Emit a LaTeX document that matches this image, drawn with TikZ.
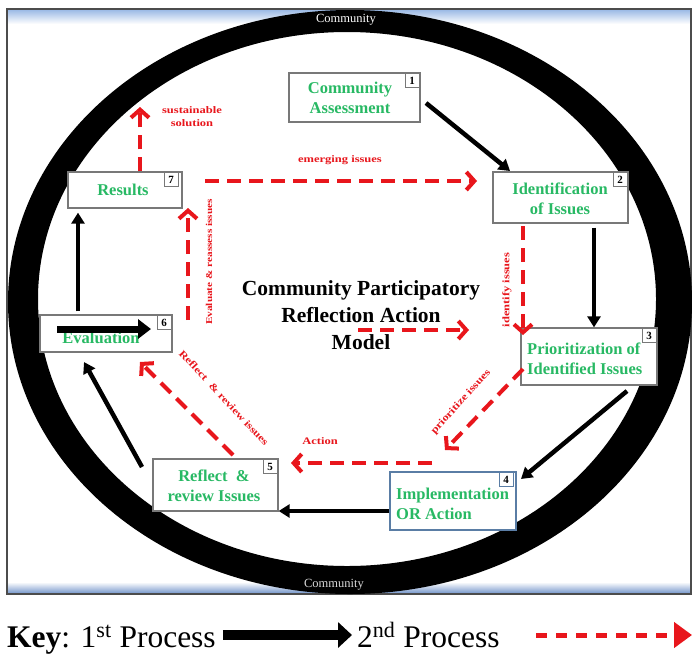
\documentclass[tikz,border=0pt]{standalone}
\usepackage{fontspec}
\setmainfont{Liberation Serif}
\newfontfamily\lblfont[FakeStretch=1.25]{Liberation Serif}
\usetikzlibrary{arrows.meta,calc}
\definecolor{boxgreen}{RGB}{40,185,100}
\definecolor{arrred}{RGB}{232,22,28}
\definecolor{bandblue}{RGB}{150,182,228}
\definecolor{bandblue2}{RGB}{110,145,200}
\definecolor{boxgray}{RGB}{120,120,120}
\definecolor{boxblue}{RGB}{90,125,165}
\begin{document}
\begin{tikzpicture}[x=1pt,y=-1pt,
  procbox/.style={draw=boxgray, line width=1.3pt, fill=white, inner sep=0pt},
  numbox/.style={draw=boxgray, line width=0.9pt, fill=white, minimum size=14pt, inner sep=0pt,
     anchor=north east, font=\bfseries\fontsize{11}{11}\selectfont},
  boxtext/.style={text=boxgreen, font=\bfseries\fontsize{16.5}{20}\selectfont, inner sep=0pt},
  lbl/.style={text=arrred, font=\lblfont\bfseries\fontsize{10}{13}\selectfont, inner sep=0pt},
  blackarr/.style={draw=black, line width=4.5pt, -{Triangle[length=11pt,width=13pt]}},
  redarr/.style={draw=arrred, line width=4pt, dash pattern=on 14pt off 8pt,
     -{Straight Barb[length=8pt,width=18pt,line width=4pt]}},
  keytext/.style={anchor=base west, font=\fontsize{31.5}{33}\selectfont, inner sep=0pt}
]
\useasboundingbox (0,0) rectangle (692,654);
% frame
\fill[white] (0,0) rectangle (692,654);
\shade[top color=bandblue, bottom color=white] (7,9) rectangle (691,24);
\shade[top color=white, bottom color=bandblue2] (7,582) rectangle (691,594);
\draw[draw=black!70, line width=1.2pt] (7,9) rectangle (691,594);
% ring
\fill[black, even odd rule] (350,302) ellipse [x radius=342, y radius=292]
   (347,299) ellipse [x radius=309, y radius=267];
\node[text=white, font=\fontsize{12.5}{13}\selectfont, inner sep=0pt] (ctop) at (346,20) {Community};
\node[text=white!85!black, font=\fontsize{12.5}{13}\selectfont, inner sep=0pt] (cbot) at (334,585) {Community};

% boxes
\node[procbox, minimum width=131pt, minimum height=49pt] (b1) at (354.5,97.5) {};
\node[procbox, minimum width=135pt, minimum height=51pt] (b2) at (560.5,197.5) {};
\node[procbox, minimum width=136pt, minimum height=57pt] (b3) at (589,356.5) {};
\node[procbox, draw=boxblue, minimum width=126pt, minimum height=58pt] (b4) at (453,501) {};
\node[procbox, minimum width=125pt, minimum height=52pt] (b5) at (215.5,485) {};
\node[procbox, minimum width=132pt, minimum height=37pt] (b6) at (106,333.5) {};
\node[procbox, minimum width=114pt, minimum height=36pt] (b7) at (125,190) {};

\node[boxtext, align=center] (t1) at (350,98) {Community\\Assessment};
\node[boxtext, align=center] (t2) at (560,199) {Identification\\of Issues};
\node[boxtext, align=left, anchor=west] (t3) at (527,359) {Prioritization of\\Identified Issues};
\node[boxtext, align=left, anchor=west] (t4) at (396,504) {Implementation\\OR Action};
\node[boxtext, align=center] (t5) at (214,486) {Reflect \ \&\\review Issues};
\node[boxtext] (t6) at (101,338) {Evaluation};
\node[boxtext] (t7) at (123,190) {Results};

\node[numbox] (n1) at ([xshift=-1pt,yshift=-1pt]b1.north east) {1};
\node[numbox] (n2) at ([xshift=-1pt,yshift=-1pt]b2.north east) {2};
\node[numbox] (n3) at ([xshift=-1pt,yshift=-1pt]b3.north east) {3};
\node[numbox, draw=boxblue] (n4) at ([xshift=-3pt,yshift=-1pt]b4.north east) {4};
\node[numbox] (n5) at ([xshift=-1pt,yshift=-1pt]b5.north east) {5};
\node[numbox] (n6) at ([xshift=-1pt,yshift=-1pt]b6.north east) {6};
\node[numbox] (n7) at ([xshift=-4pt,yshift=-1pt]b7.north east) {7};

% black (1st process) arrows
\coordinate (k1s) at (426,103);  \coordinate (k1e) at (510,171);
\draw[blackarr] (k1s) -- (k1e);
\draw[blackarr] (b2.south -| 594,0) ++(0,4) coordinate (k2s) -- (b3.north -| 594,0);
\coordinate (k3s) at (627,391); \coordinate (k3e) at (521,479);
\draw[blackarr] (k3s) -- (k3e);
\draw[blackarr] (b4.west |- 0,511) -- (b5.east |- 0,511);
\coordinate (k5s) at (142,467); \coordinate (k5e) at (84,362);
\draw[blackarr] (k5s) -- (k5e);
\draw[blackarr] ([yshift=3pt]b6.north -| 78,0) -- ([yshift=-4pt]b7.south -| 78,0);
% arrow over Evaluation
\coordinate (e6s) at (57,329); \coordinate (e6e) at (151,329);
\draw[draw=black, line width=7pt, -{Triangle[length=13pt,width=19pt]}] (e6s) -- (e6e);

% red (2nd process) arrows
\coordinate (r1e) at (140,107);
\draw[redarr] (b7.north -| 140,0) -- (r1e);
\coordinate (r2s) at (205,181); \coordinate (r2e) at (477,181);
\draw[redarr] (r2s) -- (r2e);
\coordinate (r3s) at (523,226); \coordinate (r3e) at (523,335);
\draw[redarr] (r3s) -- (r3e);
\coordinate (r4s) at (523,369); \coordinate (r4e) at (445,450);
\draw[redarr] (r4s) -- (r4e);
\coordinate (r5s) at (432,463); \coordinate (r5e) at (291,463);
\draw[redarr] (r5s) -- (r5e);
\coordinate (r6s) at (233,455); \coordinate (r6e) at (140,362);
\draw[redarr] (r6s) -- (r6e);
\coordinate (r7s) at (188,320); \coordinate (r7e) at (188,208);
\draw[redarr] (r7s) -- (r7e);
\coordinate (r8s) at (358,330); \coordinate (r8e) at (469,330);
\draw[redarr] (r8s) -- (r8e);

% red labels
\node[lbl, align=center] (l1) at (192,117) {sustainable\\solution};
\node[lbl] (l2) at (340,160) {emerging issues};
\node[lbl, rotate=90] (l3) at (507,290) {identify issues};
\node[lbl, rotate=48] (l4) at (461,402) {prioritize issues};
\node[lbl] (l5) at (320,441) {Action};
\node[lbl, rotate=-47] (l6) at (224,398) {Reflect \ \& review issues};
\node[lbl, rotate=90, font=\lblfont\bfseries\fontsize{9}{11}\selectfont] (l7) at (209,262) {Evaluate \& reassess issues};

% title
\node[font=\bfseries\fontsize{21.5}{27}\selectfont, align=center, inner sep=0pt] (title) at (361,315)
  {Community Participatory\\Reflection Action\\Model};

% key
\node[keytext] (key1) at (7,647) {\textbf{Key}: 1\textsuperscript{st} Process};
\node[keytext] (key2) at (357,647) {2\textsuperscript{nd} Process};
\draw[draw=black, line width=10pt, -{Triangle[length=14pt,width=25pt]}] ([xshift=7pt,yshift=12pt]key1.base east) -- ([xshift=-5pt,yshift=12pt]key2.base west);
\coordinate (kr1) at (536,635); \coordinate (kr2) at (692,635);
\draw[draw=arrred, line width=5pt, dash pattern=on 11pt off 9pt, -{Triangle[length=18pt,width=25pt]}] (kr1) -- (kr2);
\end{tikzpicture}
\end{document}
